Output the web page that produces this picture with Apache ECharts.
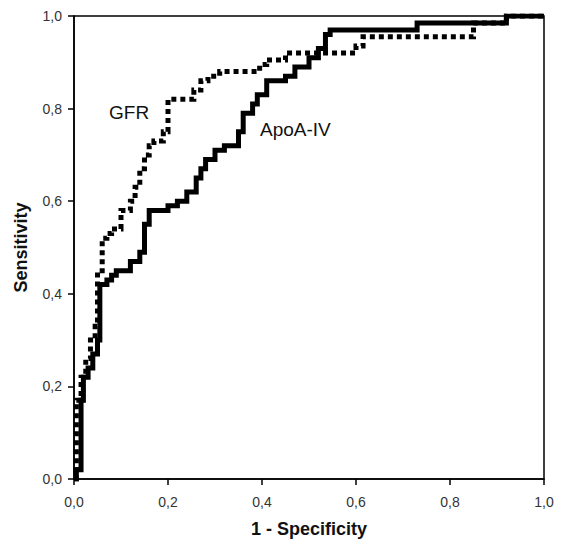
<!DOCTYPE html>
<html><head><meta charset="utf-8">
<script src="https://cdn.jsdelivr.net/npm/echarts@6/dist/echarts.min.js"></script>
<style>html,body{margin:0;padding:0;background:#fff}#c{width:564px;height:543px}</style>
</head><body><div id="c"></div>
<script>
// ApoA-IV (solid) ROC step vertices
const apoX = [0,0.005,0.005,0.015,0.015,0.02,0.02,0.03,0.03,0.04,0.04,0.05,0.05,0.055,0.055,0.07,0.07,0.08,0.08,0.09,0.09,0.12,0.12,0.14,0.14,0.15,0.15,0.16,0.16,0.2,0.2,0.22,0.22,0.24,0.24,0.26,0.26,0.27,0.27,0.28,0.28,0.3,0.3,0.32,0.32,0.35,0.35,0.36,0.36,0.38,0.38,0.39,0.39,0.41,0.41,0.45,0.45,0.47,0.47,0.5,0.5,0.52,0.52,0.535,0.535,0.545,0.545,0.73,0.73,0.92,0.92,1.0];
const apoY = [0,0,0.02,0.02,0.17,0.17,0.22,0.22,0.24,0.24,0.27,0.27,0.30,0.30,0.42,0.42,0.43,0.43,0.44,0.44,0.45,0.45,0.47,0.47,0.49,0.49,0.55,0.55,0.58,0.58,0.59,0.59,0.60,0.60,0.62,0.62,0.65,0.65,0.67,0.67,0.69,0.69,0.71,0.71,0.72,0.72,0.75,0.75,0.79,0.79,0.81,0.81,0.83,0.83,0.86,0.86,0.87,0.87,0.89,0.89,0.91,0.91,0.93,0.93,0.96,0.96,0.97,0.97,0.985,0.985,1.0,1.0];
// GFR (dotted) ROC step vertices
const gfrX = [0,0.005,0.005,0.015,0.015,0.025,0.025,0.035,0.035,0.045,0.045,0.05,0.05,0.06,0.06,0.07,0.07,0.08,0.08,0.1,0.1,0.12,0.12,0.13,0.13,0.14,0.14,0.15,0.15,0.16,0.16,0.17,0.17,0.19,0.19,0.2,0.2,0.255,0.255,0.27,0.27,0.285,0.285,0.31,0.31,0.395,0.395,0.41,0.41,0.45,0.45,0.6,0.6,0.615,0.615,0.85,0.85,0.92,0.92,1.0];
const gfrY = [0,0,0.17,0.17,0.22,0.22,0.26,0.26,0.30,0.30,0.33,0.33,0.45,0.45,0.52,0.52,0.53,0.53,0.54,0.54,0.58,0.58,0.60,0.60,0.63,0.63,0.67,0.67,0.70,0.70,0.72,0.72,0.73,0.73,0.75,0.75,0.82,0.82,0.84,0.84,0.86,0.86,0.87,0.87,0.88,0.88,0.895,0.895,0.905,0.905,0.92,0.92,0.935,0.935,0.955,0.955,0.985,0.985,1.0,1.0];
const seriesNames = ['GFR','ApoA-IV'];
const xTitle = '1 - Specificity';
const yTitle = 'Sensitivity';

const zip = (a,b)=>a.map((v,i)=>[v,b[i]]);
const fmt = v => v.toFixed(1).replace('.', ',');
const FONT = '"Liberation Sans", Arial, Helvetica, sans-serif';

const chart = echarts.init(document.getElementById('c'), null, {renderer:'svg'});
const axisCommon = {
  type:'value', min:0, max:1, interval:0.2,
  axisLine:{show:true, lineStyle:{color:'#000', width:1.5}},
  axisTick:{show:true, length:6, lineStyle:{color:'#000', width:1.5}},
  splitLine:{show:false},
  axisLabel:{formatter:fmt, color:'#333', fontSize:14, fontFamily:FONT}
};
chart.setOption({
  animation:false,
  grid:{left:74, right:20, top:16, bottom:62, show:true, borderColor:'#000', borderWidth:1.5, backgroundColor:'transparent'},
  xAxis:Object.assign({}, axisCommon, {
    name:xTitle, nameLocation:'middle', nameGap:41,
    nameTextStyle:{fontSize:18, fontWeight:'bold', color:'#111', fontFamily:FONT},
    axisLabel:Object.assign({}, axisCommon.axisLabel, {margin:16})
  }),
  yAxis:Object.assign({}, axisCommon, {
    name:yTitle, nameLocation:'middle', nameGap:44,
    nameTextStyle:{fontSize:18, fontWeight:'bold', color:'#111', fontFamily:FONT},
    axisLabel:Object.assign({}, axisCommon.axisLabel, {margin:12})
  }),
  series:[
    {name:seriesNames[0], type:'line', data:zip(gfrX,gfrY), showSymbol:false, z:2,
     lineStyle:{color:'#000', width:5, type:[5,4], cap:'butt', join:'miter'}},
    {name:seriesNames[1], type:'line', data:zip(apoX,apoY), showSymbol:false, z:3,
     lineStyle:{color:'#000', width:5, type:'solid', cap:'butt', join:'miter'}}
  ],
  graphic:[
    {type:'text', left:109, top:103, style:{text:seriesNames[0], font:'19px '+FONT, fill:'#111'}},
    {type:'text', left:260, top:120, style:{text:seriesNames[1], font:'19px '+FONT, fill:'#111'}}
  ]
});
</script></body></html>
